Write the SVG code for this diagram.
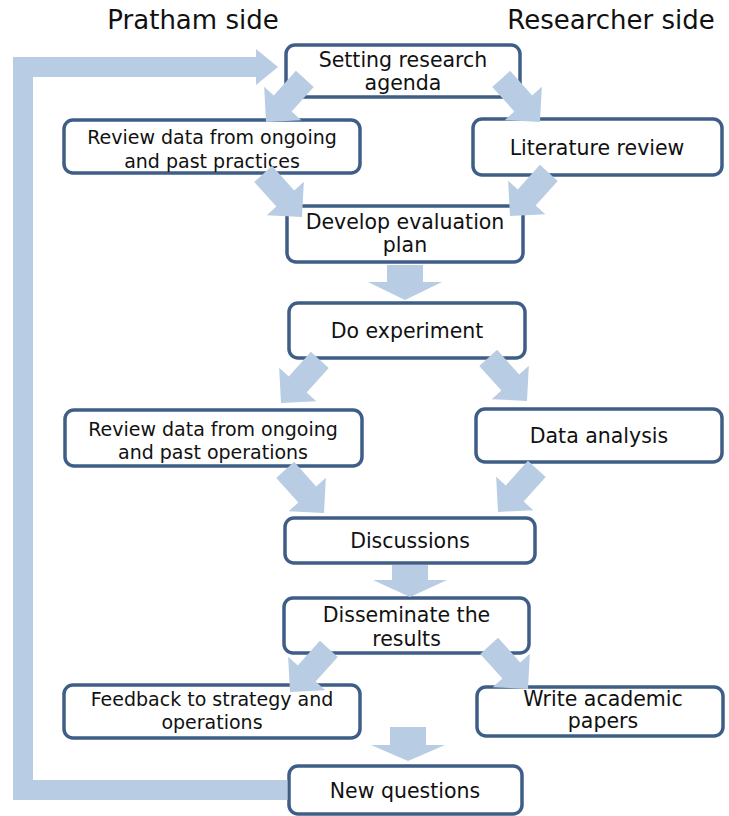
<svg xmlns="http://www.w3.org/2000/svg" xmlns:xlink="http://www.w3.org/1999/xlink" width="729" height="816" viewBox="0 0 729 816">
  <style>
    .box { fill: #ffffff; stroke: #3f5e87; stroke-width: 3.5; }
    .lbl { font-family: "DejaVu Sans", "Liberation Sans", sans-serif; font-size: 20.5px; fill: #111111; text-anchor: middle; }
    .sm { font-size: 19px; }
    .head { font-family: "DejaVu Sans", "Liberation Sans", sans-serif; font-size: 26px; fill: #111111; text-anchor: middle; }
    .arrow { fill: #b8cce4; }
    .loop { fill: none; stroke: #b8cce4; stroke-width: 20; stroke-linejoin: miter; }
  </style>
  <defs>
    <!-- block arrow, tip at the origin, pointing down -->
    <path id="diag" d="M-12,-58 L12,-58 L12,-25 L25,-25 L0,0 L-25,-25 L-12,-25 Z"/>
  </defs>

  <rect width="729" height="816" fill="#ffffff"/>

  <!-- column headings -->
  <text class="head" x="193" y="29">Pratham side</text>
  <text class="head" x="611" y="29">Researcher side</text>

  <g id="setting-agenda">
    <rect class="box" x="286" y="45" width="234" height="52" rx="9"/>
    <text class="lbl" x="403" y="67">Setting research</text>
    <text class="lbl" x="403" y="90">agenda</text>
  </g>
  <g id="review-practices">
    <rect class="box" x="64" y="120" width="296" height="53" rx="9"/>
    <text class="lbl sm" x="212" y="144">Review data from ongoing</text>
    <text class="lbl sm" x="212" y="167.5">and past practices</text>
  </g>
  <g id="literature-review">
    <rect class="box" x="473" y="119" width="249" height="56" rx="9"/>
    <text class="lbl" x="597" y="154.5">Literature review</text>
  </g>
  <g id="evaluation-plan">
    <rect class="box" x="287" y="206" width="236" height="56" rx="9"/>
    <text class="lbl" x="405" y="229">Develop evaluation</text>
    <text class="lbl" x="405" y="251.5">plan</text>
  </g>
  <g id="experiment">
    <rect class="box" x="289" y="303" width="236" height="55" rx="9"/>
    <text class="lbl" x="407" y="338">Do experiment</text>
  </g>
  <g id="review-operations">
    <rect class="box" x="65" y="410" width="297" height="56" rx="9"/>
    <text class="lbl sm" x="213" y="435.5">Review data from ongoing</text>
    <text class="lbl sm" x="213" y="459">and past operations</text>
  </g>
  <g id="data-analysis">
    <rect class="box" x="476" y="409" width="246" height="53" rx="9"/>
    <text class="lbl" x="599" y="442.5">Data analysis</text>
  </g>
  <g id="discussions">
    <rect class="box" x="285" y="518" width="250" height="45" rx="9"/>
    <text class="lbl" x="410" y="548">Discussions</text>
  </g>
  <g id="disseminate">
    <rect class="box" x="284" y="598" width="245" height="55" rx="9"/>
    <text class="lbl" x="406.5" y="621.5">Disseminate the</text>
    <text class="lbl" x="406.5" y="645.5">results</text>
  </g>
  <g id="feedback">
    <rect class="box" x="64" y="685" width="296" height="53" rx="9"/>
    <text class="lbl sm" x="212" y="706">Feedback to strategy and</text>
    <text class="lbl sm" x="212" y="729">operations</text>
  </g>
  <g id="academic-papers">
    <rect class="box" x="477" y="687" width="246" height="49" rx="9"/>
    <text class="lbl" x="603" y="705.5">Write academic</text>
    <text class="lbl" x="603" y="728">papers</text>
  </g>
  <g id="new-questions">
    <rect class="box" x="289" y="766" width="233" height="48" rx="9"/>
    <text class="lbl" x="405" y="798">New questions</text>
  </g>

  <g id="connectors">
    <!-- feedback loop back to the agenda -->
    <path class="loop" d="M287.5,790 H23 V67 H258"/>
    <polygon class="arrow" points="256,49 278,67 256,85"/>

    <!-- diagonal block arrows -->
    <use class="arrow" xlink:href="#diag" href="#diag" transform="translate(266,122) rotate(42)"/>
    <use class="arrow" xlink:href="#diag" href="#diag" transform="translate(540,122) rotate(-42)"/>
    <use class="arrow" xlink:href="#diag" href="#diag" transform="translate(302,217) rotate(-42)"/>
    <use class="arrow" xlink:href="#diag" href="#diag" transform="translate(510,216) rotate(42)"/>
    <use class="arrow" xlink:href="#diag" href="#diag" transform="translate(281,403) rotate(42)"/>
    <use class="arrow" xlink:href="#diag" href="#diag" transform="translate(527,401) rotate(-42)"/>
    <use class="arrow" xlink:href="#diag" href="#diag" transform="translate(324,513) rotate(-42)"/>
    <use class="arrow" xlink:href="#diag" href="#diag" transform="translate(498,512) rotate(42)"/>
    <use class="arrow" xlink:href="#diag" href="#diag" transform="translate(290,692) rotate(42)"/>
    <use class="arrow" xlink:href="#diag" href="#diag" transform="translate(528,689) rotate(-42)"/>

    <!-- straight down arrows -->
    <polygon class="arrow" points="387,265 423,265 423,282 442,282 405,300 368,282 387,282"/>
    <polygon class="arrow" points="392,565 428,565 428,580 447,580 410,597 373,580 392,580"/>
    <polygon class="arrow" points="390,727 426,727 426,745 445,745 408,761 371,745 390,745"/>
  </g>
</svg>
